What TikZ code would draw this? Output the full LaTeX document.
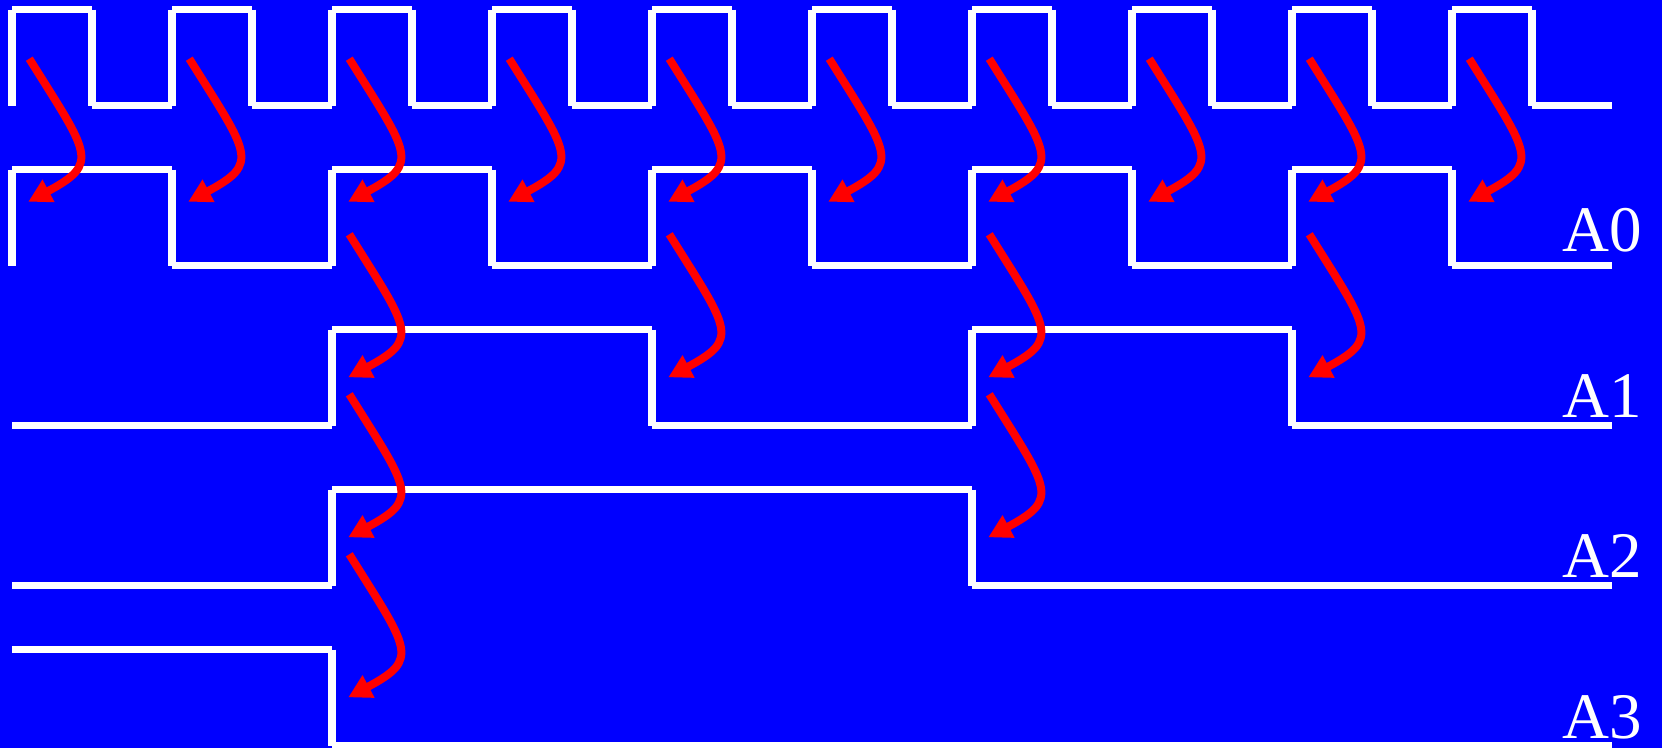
\documentclass[tikz,border=0pt]{standalone}
\usepackage{fontspec}
\setmainfont{Liberation Serif}
\usetikzlibrary{arrows.meta}
\definecolor{bgblue}{RGB}{0,0,255}
\definecolor{arrred}{RGB}{255,0,0}
\tikzset{
  wave/.style={draw=white, line width=7.4pt, line cap=butt},
  flip/.style={draw=arrred, line width=8pt, line cap=butt,
    -{Triangle[length=23pt,width=24pt]}},
  siglabel/.style={text=white, font=\fontsize{65}{65}\selectfont, anchor=base east, inner sep=0pt}
}
% flip arrow whose tip is at (#1,#2)
\newcommand{\fliparrow}[3]{%
  \coordinate (#3s) at ({#1+1},{#2-143});
  \coordinate (#3t) at (#1,#2);
  \draw[flip] (#3s) .. controls ({#1+61},{#2-47}) and ({#1+72},{#2-38.5}) .. (#3t);
}
\begin{document}
\begin{tikzpicture}[x=1pt,y=-1pt]
\fill[bgblue] (0,0) rectangle (1662,748);
\useasboundingbox (0,0) rectangle (1662,748);

% ---- clock ----
\def\H{9.7}\def\L{105.7}
\foreach \k in {0,...,9}{
  \pgfmathsetmacro{\a}{12+160*\k}
  \pgfmathsetmacro{\b}{92+160*\k}
  \pgfmathsetmacro{\c}{172+160*\k}
  \draw[wave] (\a,\L) -- (\a,\H) (\a,\H) -- (\b,\H) (\b,\H) -- (\b,\L) (\b,\L) -- (\c,\L);
}

% ---- A0 ----
\def\H{169.7}\def\L{265.7}
\foreach \k in {0,...,4}{
  \pgfmathsetmacro{\a}{12+320*\k}
  \pgfmathsetmacro{\b}{172+320*\k}
  \pgfmathsetmacro{\c}{332+320*\k}
  \draw[wave] (\a,\L) -- (\a,\H) (\a,\H) -- (\b,\H) (\b,\H) -- (\b,\L) (\b,\L) -- (\c,\L);
}

% ---- A1 ----
\def\H{329.7}\def\L{425.7}
\draw[wave] (12,\L) -- (332,\L) (332,\L) -- (332,\H) (332,\H) -- (652,\H) (652,\H) -- (652,\L)
  (652,\L) -- (972,\L) (972,\L) -- (972,\H) (972,\H) -- (1292,\H) (1292,\H) -- (1292,\L)
  (1292,\L) -- (1612,\L);

% ---- A2 ----
\def\H{489.7}\def\L{585.7}
\draw[wave] (12,\L) -- (332,\L) (332,\L) -- (332,\H) (332,\H) -- (972,\H) (972,\H) -- (972,\L)
  (972,\L) -- (1612,\L);

% ---- A3 ----
\def\H{649.7}\def\L{745.7}
\draw[wave] (12,\H) -- (332,\H) (332,\H) -- (332,\L) (332,\L) -- (1612,\L);

% ---- labels ----
\node[siglabel] (lA0) at (1642,251) {A0};
\node[siglabel] (lA1) at (1642,417) {A1};
\node[siglabel] (lA2) at (1642,577) {A2};
\node[siglabel] (lA3) at (1642,738) {A3};

% ---- arrows clock -> A0 ----
\foreach \k in {0,...,9}{
  \fliparrow{28.3+160*\k}{201.7}{c\k}
}
% ---- arrows A0 -> A1 ----
\foreach \k in {0,...,3}{
  \fliparrow{348.3+320*\k}{377.3}{d\k}
}
% ---- arrows A1 -> A2 ----
\fliparrow{348.3}{537.3}{e0}
\fliparrow{988.3}{537.3}{e1}
% ---- arrow A2 -> A3 ----
\fliparrow{348.3}{697.3}{f0}
\end{tikzpicture}
\end{document}
